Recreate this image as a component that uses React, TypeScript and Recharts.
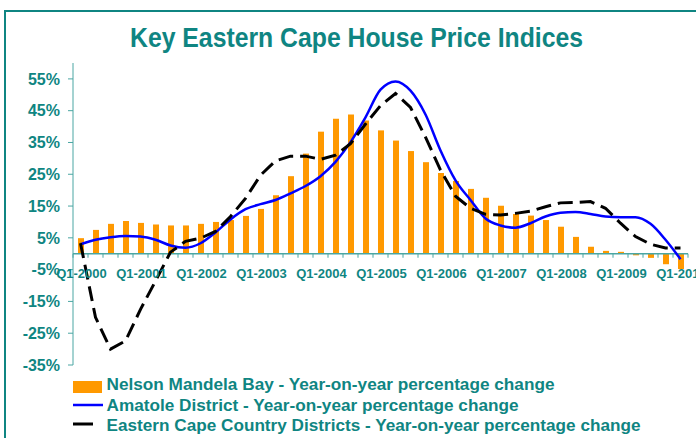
import React from 'react';
import { ComposedChart, Bar, Line, XAxis, YAxis, ReferenceLine, Legend } from 'recharts';

const QUARTERS = [
  'Q1-2000', 'Q2-2000', 'Q3-2000', 'Q4-2000',
  'Q1-2001', 'Q2-2001', 'Q3-2001', 'Q4-2001',
  'Q1-2002', 'Q2-2002', 'Q3-2002', 'Q4-2002',
  'Q1-2003', 'Q2-2003', 'Q3-2003', 'Q4-2003',
  'Q1-2004', 'Q2-2004', 'Q3-2004', 'Q4-2004',
  'Q1-2005', 'Q2-2005', 'Q3-2005', 'Q4-2005',
  'Q1-2006', 'Q2-2006', 'Q3-2006', 'Q4-2006',
  'Q1-2007', 'Q2-2007', 'Q3-2007', 'Q4-2007',
  'Q1-2008', 'Q2-2008', 'Q3-2008', 'Q4-2008',
  'Q1-2009', 'Q2-2009', 'Q3-2009', 'Q4-2009',
  'Q1-2010',
];

const nelsonMandela = [
  4.9, 7.5, 9.4, 10.3,
  9.7, 9.2, 8.9, 8.9,
  9.4, 10.0, 10.6, 11.9,
  14.1, 18.4, 24.4, 31.5,
  38.4, 42.5, 43.8, 41.9,
  38.8, 35.6, 32.3, 28.8,
  25.4, 22.9, 20.4, 17.6,
  15.1, 12.5, 12.0, 10.6,
  8.5, 5.3, 2.2, 0.9,
  0.6, -0.5, -1.3, -3.3,
  -4.8,
];

const amatole = [
  3.0, 4.4, 5.2, 5.6,
  5.4, 4.4, 2.6, 1.9,
  3.3, 6.7, 10.8, 14.0,
  15.6, 16.9, 19.0, 21.3,
  24.4, 28.9, 35.1, 42.9,
  51.6, 54.2, 51.3, 43.8,
  32.5, 23.1, 16.9, 11.1,
  8.9, 8.2, 9.6, 11.7,
  12.9, 13.1, 12.5, 11.7,
  11.5, 11.5, 9.4, 4.4,
  -1.7,
];

const countryDistricts = [
  3.3, -20.0, -30.0, -27.4,
  -17.5, -8.6, 0.5, 3.9,
  4.9, 7.0, 11.7, 17.4,
  24.7, 29.2, 30.7, 30.7,
  29.7, 31.0, 34.6, 40.8,
  46.6, 50.4, 46.0, 36.7,
  26.3, 18.1, 14.3, 12.4,
  12.2, 12.7, 13.4, 14.8,
  16.0, 16.1, 16.4, 14.3,
  9.6, 5.4, 3.0, 1.8,
  1.8,
];

const Y_TICKS = [-35, -25, -15, -5, 5, 15, 25, 35, 45, 55];
const Y_MIN = -35;
const Y_MAX = 60;

const LEGEND_LABELS = [
  'Nelson Mandela Bay - Year-on-year percentage change',
  'Amatole District - Year-on-year percentage change',
  'Eastern Cape Country Districts - Year-on-year percentage change',
];

const data = QUARTERS.map((q, i) => ({
  q,
  nmb: nelsonMandela[i],
  amatole: amatole[i],
  ecc: countryDistricts[i],
}));

const W = 696;
const H = 438;
const M = { top: 63, right: 8, bottom: 53, left: 8 };
const Y_AXIS_W = 65;
const X_AXIS_H = 20;
const PLOT_W = W - M.left - M.right - Y_AXIS_W;
const PLOT_H = H - M.top - M.bottom - X_AXIS_H;
const ZERO_Y = M.top + (Y_MAX / (Y_MAX - Y_MIN)) * PLOT_H;
const BAND = PLOT_W / QUARTERS.length;

const TEAL = '#0f8582';
const AXIS = '#4aa6a3';
const FONT = '"Liberation Sans", Arial, sans-serif';

const XTick = (props: any) => {
  const { x, payload, index } = props;
  const label = String(payload.value);
  const last = index === QUARTERS.length - 1;
  return (
    <g>
      <line x1={x - BAND / 2} x2={x - BAND / 2} y1={ZERO_Y} y2={ZERO_Y + 4} stroke={AXIS} />
      {last && <line x1={x + BAND / 2} x2={x + BAND / 2} y1={ZERO_Y} y2={ZERO_Y + 4} stroke={AXIS} />}
      {label.startsWith('Q1') && (
        <text x={x + 1} y={ZERO_Y + 24} textAnchor="middle" fill={TEAL}
          style={{ fontFamily: FONT, fontSize: 13, fontWeight: 700 }}>
          {label}
        </text>
      )}
    </g>
  );
};

const LegendBox = () => {
  const widths = [448, 412, 534];
  return (
    <svg width={W} height={68}>
      <rect x={73} y={11} width={29} height={12} fill="#FF9900" />
      <line x1={73} x2={103} y1={35} y2={35} stroke="#0000FF" strokeWidth={2.5} />
      <line x1={73} x2={93} y1={54} y2={54} stroke="#000" strokeWidth={3} />
      {LEGEND_LABELS.map((t, i) => (
        <text key={t} x={106.5} y={20 + i * 20.5} fill={TEAL} textLength={widths[i]}
          lengthAdjust="spacingAndGlyphs"
          style={{ fontFamily: FONT, fontSize: 16.5, fontWeight: 700 }}>
          {t}
        </text>
      ))}
    </svg>
  );
};

export default function App() {
  return (
    <div style={{ position: 'absolute', left: 0, top: 0, width: W, height: H, overflow: 'hidden', background: '#fff' }}>
      <div style={{ position: 'absolute', left: 4, top: 10, width: 760, height: 500, border: `2px solid ${TEAL}` }} />
      <div style={{ position: 'absolute', left: 0, top: 0 }}>
        <ComposedChart width={W} height={H} data={data} margin={M}>
          <XAxis dataKey="q" interval={0} axisLine={false} tickLine={false} height={X_AXIS_H} tick={<XTick />} />
          <YAxis
            domain={[Y_MIN, Y_MAX]}
            ticks={Y_TICKS}
            width={Y_AXIS_W}
            tickFormatter={(v: number) => `${v}%`}
            axisLine={{ stroke: AXIS }}
            tickLine={{ stroke: AXIS }}
            tickSize={5}
            tickMargin={8}
            tick={{ fill: TEAL, fontSize: 16, fontWeight: 700, fontFamily: FONT }}
          />
          <ReferenceLine y={0} stroke={AXIS} strokeWidth={1.5} />
          <Bar dataKey="nmb" fill="#FF9900" barSize={6} isAnimationActive={false} />
          <Line type="monotone" dataKey="amatole" stroke="#0000FF" strokeWidth={2.5} dot={false} isAnimationActive={false} />
          <Line type="linear" dataKey="ecc" stroke="#000" strokeWidth={3} strokeDasharray="15 7" dot={false} isAnimationActive={false} />
          <Legend layout="vertical" align="center" verticalAlign="middle"
            wrapperStyle={{ left: 0, top: 370, width: W, height: 68 }}
            content={() => <LegendBox />} />
        </ComposedChart>
      </div>
      <svg style={{ position: 'absolute', left: 0, top: 0 }} width={W} height={60}>
        <text x={130} y={46.5} fill={TEAL} textLength={453} lengthAdjust="spacingAndGlyphs"
          style={{ fontFamily: FONT, fontSize: 27, fontWeight: 700 }}>
          Key Eastern Cape House Price Indices
        </text>
      </svg>
    </div>
  );
}
